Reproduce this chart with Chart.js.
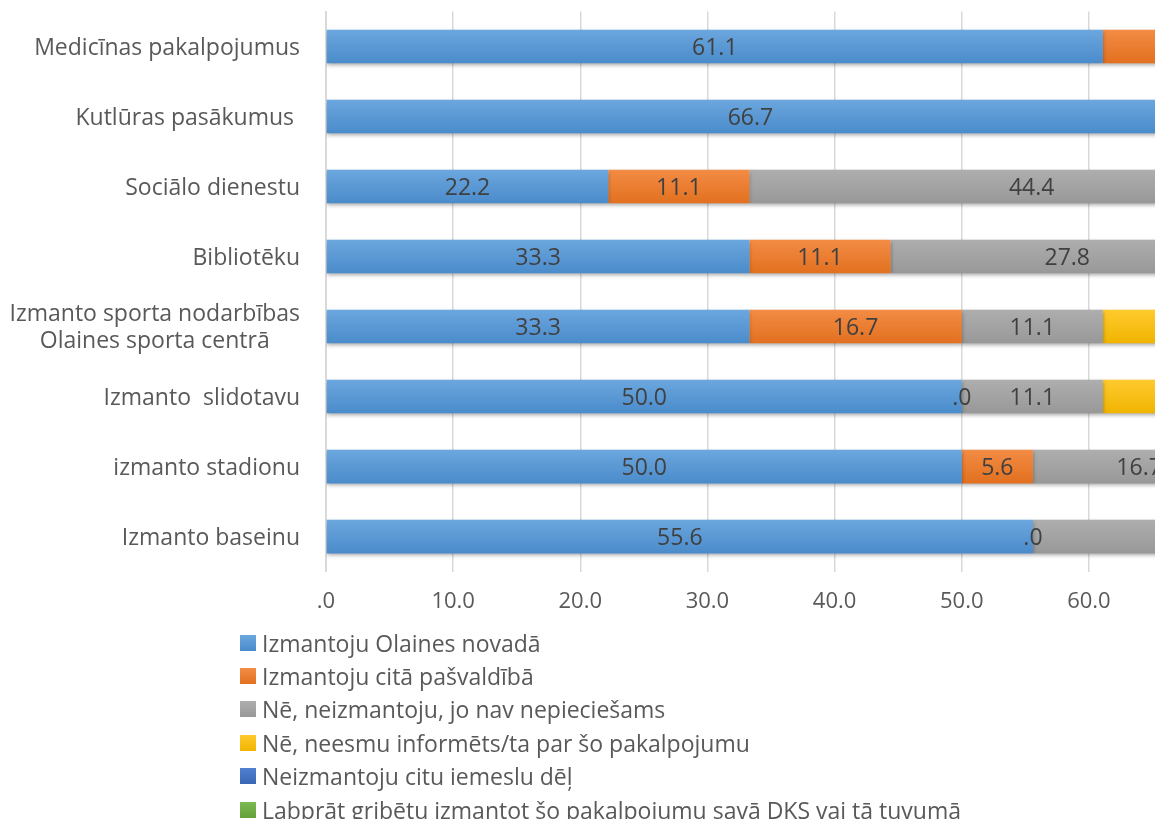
<!DOCTYPE html>
<html>
<head>
<meta charset="utf-8">
<script src="https://cdn.jsdelivr.net/npm/chart.js@4/dist/chart.umd.min.js"></script>
<style>
  html, body { margin: 0; padding: 0; background: #fff; }
  #wrap { position: relative; width: 1162px; height: 819px; font-family: "Open Sans", sans-serif; }
  #chart { position: absolute; left: 0; top: 0; }
  #legend { position: absolute; left: 240px; top: 626px; }
  .item { height: 33.4px; display: flex; align-items: center; font-size: 23px; color: #595959; white-space: nowrap; }
  .box { width: 16px; height: 16px; margin-right: 6px; }
</style>
</head>
<body>
<div id="wrap">
  <canvas id="chart" width="1162" height="632"></canvas>
  <div id="legend"></div>
</div>
<script>
// kategorijas (y ass)
const categories = [
  "Medicīnas pakalpojumus",
  "Kutlūras pasākumus ",
  "Sociālo dienestu",
  "Bibliotēku",
  ["Izmanto sporta nodarbības", "Olaines sporta centrā"],
  "Izmanto  slidotavu",
  "izmanto stadionu",
  "Izmanto baseinu"
];

// sērijas
const olainesNovada = [61.1, 66.7, 22.2, 33.3, 33.3, 50.0, 50.0, 55.6];
const citaPasvaldiba = [11.1, null, 11.1, 11.1, 16.7, 0, 5.6, 0];
const navNepieciesams = [null, null, 44.4, 27.8, 11.1, 11.1, 16.7, 27.8];
const neesmuInformets = [null, null, null, null, 11.1, 11.1, null, null];
const citsIemesls = [null, null, null, null, null, null, null, null];
const labpratIzmantotu = [null, null, null, null, null, null, null, null];

const xTicks = [0, 10, 20, 30, 40, 50, 60];
const xMax = 65.2;

const fmt = (v) => v.toFixed(1).replace(/^0\./, ".");

// vertikāls gradients katram stabiņam
function grad(top, bottom) {
  return function (context) {
    const chart = context.chart;
    if (!chart.chartArea || context.dataIndex === undefined) return bottom;
    const y = chart.scales.y.getPixelForValue(context.dataIndex);
    const g = chart.ctx.createLinearGradient(0, y - 17, 0, y + 17);
    g.addColorStop(0, top);
    g.addColorStop(1, bottom);
    return g;
  };
}

const series = [
  { label: "Izmantoju Olaines novadā", data: olainesNovada, top: "#6CA7DE", bottom: "#4A8BCB" },
  { label: "Izmantoju citā pašvaldībā", data: citaPasvaldiba, top: "#F38C45", bottom: "#E2701F" },
  { label: "Nē, neizmantoju, jo nav nepieciešams", data: navNepieciesams, top: "#AEAEAE", bottom: "#989898" },
  { label: "Nē, neesmu informēts/ta par šo pakalpojumu", data: neesmuInformets, top: "#FFCA2E", bottom: "#F0B400" },
  { label: "Neizmantoju citu iemeslu dēļ", data: citsIemesls, top: "#5080D0", bottom: "#3A66B5" },
  { label: "Labprāt gribētu izmantot šo pakalpojumu savā DKS vai tā tuvumā", data: labpratIzmantotu, top: "#7DBA52", bottom: "#64A03C" }
];

// ēna zem stabiņiem
const shadowPlugin = {
  id: "shadow",
  beforeDatasetsDraw(chart) {
    const ctx = chart.ctx;
    ctx.save();
    ctx.shadowColor = "rgba(0,0,0,0.35)";
    ctx.shadowBlur = 4;
    ctx.shadowOffsetY = 2;
  },
  afterDatasetsDraw(chart) {
    chart.ctx.restore();
  }
};

// vērtību etiķetes
const labelPlugin = {
  id: "barLabels",
  afterDatasetsDraw(chart) {
    const ctx = chart.ctx;
    const area = chart.chartArea;
    ctx.save();
    ctx.beginPath();
    ctx.rect(area.left, area.top, area.right - area.left, area.bottom - area.top);
    ctx.clip();
    ctx.font = '23px "Open Sans", sans-serif';
    ctx.fillStyle = "#404040";
    ctx.textAlign = "center";
    ctx.textBaseline = "middle";
    chart.data.datasets.forEach((ds, i) => {
      const meta = chart.getDatasetMeta(i);
      meta.data.forEach((el, j) => {
        const v = ds.data[j];
        if (v === null || v === undefined) return;
        const cx = (el.x + el.base) / 2;
        if (cx > area.right) return;
        ctx.fillText(fmt(v), cx, el.y + 2);
      });
    });
    ctx.restore();
  }
};

// y ass etiķetes: vienrindas pa labi, vairākrindu centrētas
const yLabelPlugin = {
  id: "yLabels",
  afterDraw(chart) {
    const ctx = chart.ctx;
    const y = chart.scales.y;
    const right = chart.chartArea.left - 26;
    ctx.save();
    ctx.font = '23px "Open Sans", sans-serif';
    ctx.fillStyle = "#595959";
    ctx.textBaseline = "middle";
    categories.forEach((c, i) => {
      const py = y.getPixelForTick(i);
      if (Array.isArray(c)) {
        const w = Math.max(...c.map((s) => ctx.measureText(s).width));
        const cx = right - w / 2;
        ctx.textAlign = "center";
        c.forEach((s, k) => {
          ctx.fillText(s, cx, py + 1 + (k - (c.length - 1) / 2) * 27);
        });
      } else {
        ctx.textAlign = "right";
        ctx.fillText(c, right, py + 2);
      }
    });
    ctx.restore();
  }
};

const chart = new Chart(document.getElementById("chart").getContext("2d"), {
  type: "bar",
  data: {
    labels: categories,
    datasets: series.map((s) => ({
      label: s.label,
      data: s.data,
      backgroundColor: grad(s.top, s.bottom),
      borderWidth: 0,
      barPercentage: 0.48,
      categoryPercentage: 1
    }))
  },
  options: {
    indexAxis: "y",
    responsive: false,
    animation: false,
    layout: { padding: { top: 11.5, right: 7, left: 0, bottom: 0 } },
    scales: {
      x: {
        stacked: true,
        min: 0,
        max: xMax,
        afterBuildTicks: (axis) => {
          axis.ticks = xTicks.map((v) => ({ value: v }));
        },
        ticks: {
          callback: (v) => fmt(v),
          color: "#595959",
          font: { family: "Open Sans", size: 22 },
          padding: 17,
          maxRotation: 0
        },
        grid: { color: "#D9D9D9", lineWidth: 1.5, drawTicks: false },
        border: { display: false }
      },
      y: {
        stacked: true,
        afterFit: (scale) => { scale.width = 326; },
        ticks: { display: false },
        grid: { display: false, drawTicks: false },
        border: { color: "#D9D9D9", width: 2 }
      }
    },
    plugins: {
      legend: { display: false },
      tooltip: { enabled: false }
    }
  },
  plugins: [shadowPlugin, labelPlugin, yLabelPlugin]
});

// leģenda zem diagrammas
const legend = document.getElementById("legend");
series.forEach((s) => {
  const row = document.createElement("div");
  row.className = "item";
  const box = document.createElement("span");
  box.className = "box";
  box.style.background = "linear-gradient(" + s.top + "," + s.bottom + ")";
  row.appendChild(box);
  row.appendChild(document.createTextNode(s.label));
  legend.appendChild(row);
});
</script>
</body>
</html>
